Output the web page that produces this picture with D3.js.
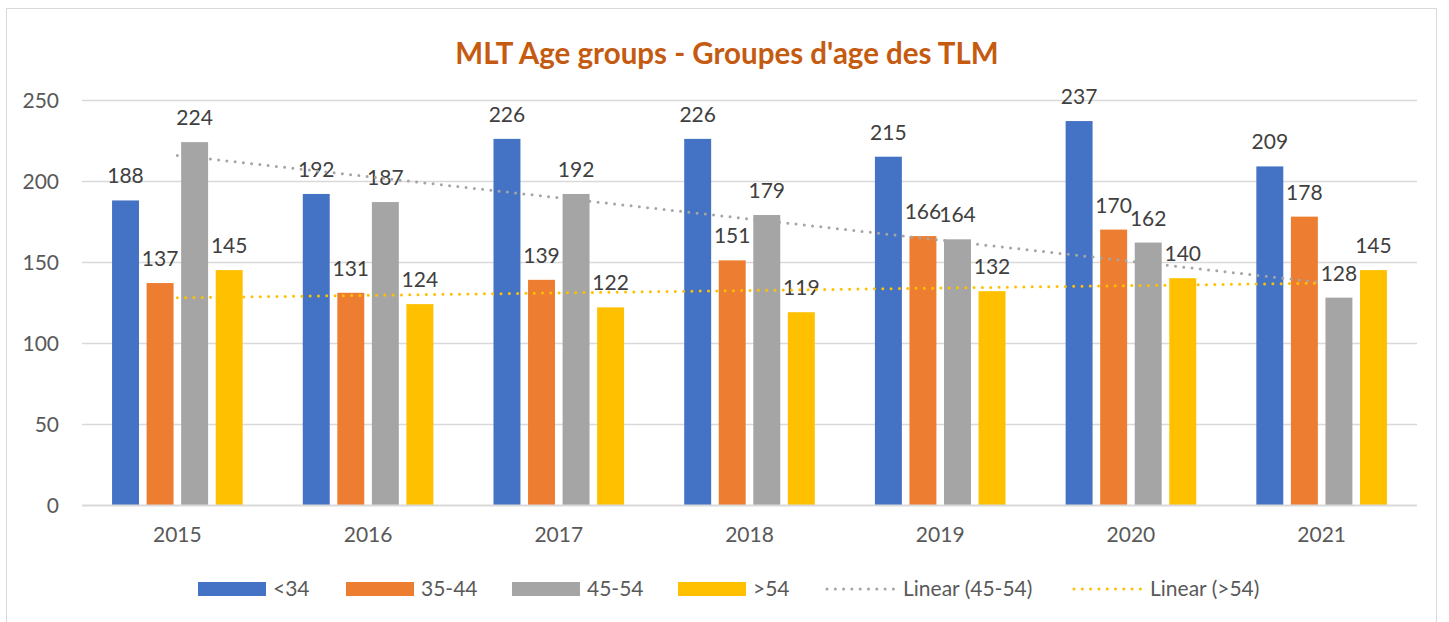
<!DOCTYPE html>
<html>
<head>
<meta charset="utf-8">
<script src="https://cdn.jsdelivr.net/npm/d3@7"></script>
<style>
  body { margin: 0; background: #fff; }
  svg { display: block; font-family: Lato, "Open Sans", sans-serif; }
</style>
</head>
<body>
<svg width="1449" height="622"></svg>
<script>
// data
const years = ["2015", "2016", "2017", "2018", "2019", "2020", "2021"];
const seriesNames = ["<34", "35-44", "45-54", ">54"];
const under34 = [188, 192, 226, 226, 215, 237, 209];
const age35to44 = [137, 131, 139, 151, 166, 170, 178];
const age45to54 = [224, 187, 192, 179, 164, 162, 128];
const over54 = [145, 124, 122, 119, 132, 140, 145];
const yTicks = [0, 50, 100, 150, 200, 250];
const colors = ["#4472C4", "#ED7D31", "#A5A5A5", "#FFC000"];

const seriesValues = [under34, age35to44, age45to54, over54];
const rows = years.map((y, i) => ({ year: y, values: seriesValues.map(s => s[i]) }));

const svg = d3.select("svg");
const margin = { top: 100, right: 32, bottom: 117, left: 82 };
const width = 1449 - margin.left - margin.right;
const height = 622 - margin.top - margin.bottom;

// chart border
svg.append("rect")
  .attr("x", 6.5).attr("y", 8.5)
  .attr("width", 1430).attr("height", 640)
  .attr("fill", "none").attr("stroke", "#D9D9D9");

svg.append("text")
  .attr("x", 727).attr("y", 64)
  .attr("text-anchor", "middle")
  .attr("font-size", 29.5).attr("font-weight", "bold")
  .attr("fill", "#C55A11")
  .text("MLT Age groups - Groupes d'age des TLM");

const g = svg.append("g").attr("transform", `translate(${margin.left},${margin.top})`);

const x0 = d3.scaleBand().domain(years).range([0, width]);
const x1 = d3.scaleBand().domain(seriesNames).range([0, x0.bandwidth()])
  .paddingInner(0.22).paddingOuter(0.87);
const y = d3.scaleLinear().domain([0, 250]).range([height, 0]);

// gridlines
g.append("g").selectAll("line")
  .data(yTicks.filter(t => t > 0))
  .join("line")
  .attr("x1", 0).attr("x2", width)
  .attr("y1", d => y(d) + 0.5).attr("y2", d => y(d) + 0.5)
  .attr("stroke", "#D9D9D9").attr("stroke-width", 1.5);

// y axis labels
const yAxis = g.append("g").call(d3.axisLeft(y).tickValues(yTicks).tickSize(0).tickPadding(23));
yAxis.select(".domain").remove();
yAxis.selectAll("text").attr("font-size", 21).attr("fill", "#595959")
  .attr("font-family", "Lato, sans-serif").attr("dy", "0.35em");

// bars
const groups = g.append("g").selectAll("g")
  .data(rows)
  .join("g")
  .attr("transform", d => `translate(${x0(d.year)},0)`);

groups.selectAll("rect")
  .data(d => d.values.map((v, i) => ({ key: seriesNames[i], value: v, i })))
  .join("rect")
  .attr("x", d => x1(d.key))
  .attr("y", d => y(d.value))
  .attr("width", x1.bandwidth())
  .attr("height", d => y(0) - y(d.value))
  .attr("fill", d => colors[d.i]);

// base axis line
g.append("line")
  .attr("x1", 0).attr("x2", width)
  .attr("y1", height + 0.5).attr("y2", height + 0.5)
  .attr("stroke", "#D9D9D9").attr("stroke-width", 2);

// x axis labels
const xAxis = g.append("g").attr("transform", `translate(0,${height})`)
  .call(d3.axisBottom(x0).tickSize(0).tickPadding(22));
xAxis.select(".domain").remove();
xAxis.selectAll("text").attr("font-size", 21).attr("fill", "#595959")
  .attr("font-family", "Lato, sans-serif");

// linear trendlines (least squares, like Excel)
function linearFit(vals) {
  const xs = vals.map((_, i) => i + 1);
  const mx = d3.mean(xs), my = d3.mean(vals);
  const slope = d3.sum(xs, (xv, i) => (xv - mx) * (vals[i] - my)) / d3.sum(xs, xv => (xv - mx) ** 2);
  const icpt = my - slope * mx;
  return xs.map(xv => icpt + slope * xv);
}
const trends = [
  { values: linearFit(age45to54), color: "#A5A5A5" },
  { values: linearFit(over54), color: "#FFC000" }
];
const line = d3.line()
  .x((d, i) => x0(years[i]) + x0.bandwidth() / 2)
  .y(d => y(d));
g.append("g").selectAll("path")
  .data(trends)
  .join("path")
  .attr("d", d => line(d.values))
  .attr("fill", "none")
  .attr("stroke", d => d.color)
  .attr("stroke-width", 3)
  .attr("stroke-linecap", "round")
  .attr("stroke-dasharray", "0 8.3");

// data labels
groups.selectAll("text.lbl")
  .data(d => d.values.map((v, i) => ({ key: seriesNames[i], value: v })))
  .join("text")
  .attr("class", "lbl")
  .attr("x", d => x1(d.key) + x1.bandwidth() / 2)
  .attr("y", d => y(d.value) - 17)
  .attr("text-anchor", "middle")
  .attr("font-size", 21)
  .attr("fill", "#404040")
  .text(d => d.value);

// legend
const legendItems = [
  { name: "<34", color: colors[0], type: "rect", x: 198 },
  { name: "35-44", color: colors[1], type: "rect", x: 346 },
  { name: "45-54", color: colors[2], type: "rect", x: 512 },
  { name: ">54", color: colors[3], type: "rect", x: 678 },
  { name: "Linear (45-54)", color: "#A5A5A5", type: "line", x: 825 },
  { name: "Linear (>54)", color: "#FFC000", type: "line", x: 1072 }
];
const legend = svg.append("g").selectAll("g")
  .data(legendItems)
  .join("g")
  .attr("transform", d => `translate(${d.x},589)`);
legend.filter(d => d.type === "rect").append("rect")
  .attr("x", 0).attr("y", -7).attr("width", 68).attr("height", 14)
  .attr("fill", d => d.color);
legend.filter(d => d.type === "line").append("line")
  .attr("x1", 2).attr("x2", 70).attr("y1", 0).attr("y2", 0)
  .attr("stroke", d => d.color).attr("stroke-width", 3)
  .attr("stroke-linecap", "round").attr("stroke-dasharray", "0 8.3");
legend.append("text")
  .attr("x", d => d.type === "rect" ? 75 : 78)
  .attr("y", 7)
  .attr("font-size", 21)
  .attr("fill", "#595959")
  .text(d => d.name);
</script>
</body>
</html>
